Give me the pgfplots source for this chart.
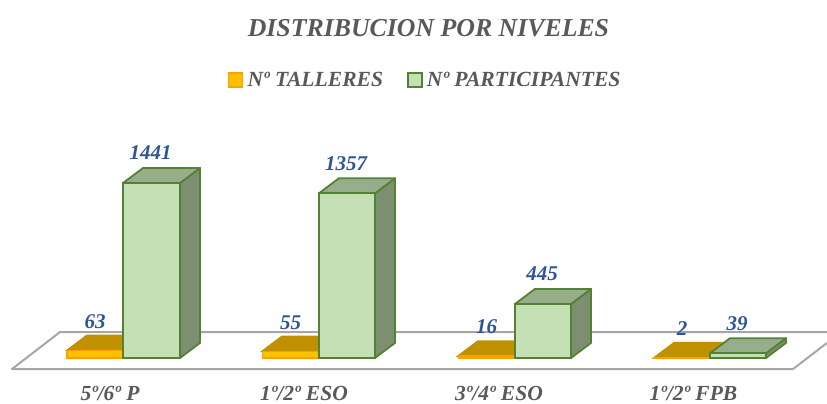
\documentclass[border=0pt]{standalone}
\usepackage{fontspec}
\setmainfont{Liberation Serif}
\usepackage{pgfplots}
\pgfplotsset{compat=1.18}
\definecolor{gtxt}{HTML}{595959}
\definecolor{btxt}{HTML}{2F5597}
\definecolor{floorc}{HTML}{A6A6A6}
\definecolor{ofront}{HTML}{FFC000}
\definecolor{oedge}{HTML}{FFA000}
\definecolor{otop}{HTML}{BF9000}
\definecolor{gfront}{HTML}{C5E0B4}
\definecolor{gedge}{HTML}{548235}
\definecolor{gtop}{HTML}{98AE8A}
\definecolor{gside}{HTML}{7D8F70}
\begin{document}
\begin{tikzpicture}
\useasboundingbox (0,-34pt) rectangle (827pt,370pt);
\begin{axis}[
  at={(0,0)},anchor=south west,
  scale only axis,width=827pt,height=370pt,
  xmin=0,xmax=827,ymin=-98.85,ymax=2949,
  clip=false,
  axis line style={draw=none},
  major tick length=0pt,
  ytick=\empty,
  xtick={110,304,499,693.5},
  xticklabels={5º/6º P,1º/2º ESO,3º/4º ESO,1º/2º FPB},
  xticklabel style={anchor=center,yshift=-23.5pt,text=gtxt,font=\bfseries\itshape\fontsize{21.5}{24}\selectfont},
  /pgf/number format/assume math mode=true,
  /pgf/number format/1000 sep={},
  title={DISTRIBUCION POR NIVELES},
  title style={at={(axis description cs:0.5181,0.9216)},anchor=center,yshift=-5pt,text=gtxt,font=\bfseries\itshape\fontsize{25.8}{30}\selectfont},
  legend columns=2,
  legend style={at={(axis description cs:0.514,0.784)},anchor=center,draw=none,fill=none,
    font=\bfseries\itshape\fontsize{21.6}{25}\selectfont,text=gtxt,
    /tikz/every even column/.append style={column sep=22pt},
    inner sep=0pt,nodes={inner sep=2pt}},
]
% floor
\addplot[forget plot,color=floorc,line width=2pt,line join=round] coordinates {(827,124)(793,-91)(12,-91)(60,214)(827,214)};
% orange tops
\addplot[forget plot,fill=otop,draw=otop,line width=1.5pt] coordinates {(67,63)(123,63)(143,187)(87,187)} --cycle;
\addplot[forget plot,fill=otop,draw=otop,line width=1.5pt] coordinates {(262,55)(319,55)(339,179)(282,179)} --cycle;
\addplot[forget plot,fill=otop,draw=otop,line width=1.5pt] coordinates {(458,16)(515,16)(535,140)(478,140)} --cycle;
\addplot[forget plot,fill=otop,draw=otop,line width=1.5pt] coordinates {(654,2)(710,2)(730,126)(674,126)} --cycle;
% orange fronts
\addplot[ybar,bar shift=0pt,bar width=56pt,fill=ofront,draw=oedge,line width=1.5pt,
  nodes near coords,
  nodes near coords style={anchor=center,yshift=29pt,text=btxt,font=\bfseries\itshape\fontsize{21}{24}\selectfont},
  legend image code/.code={\draw[fill=ofront,draw=oedge,line width=1.8pt] (0,-7pt) rectangle (14pt,7pt);\path[draw=none,fill=none] (0,0) -- (17pt,0);}]
  coordinates {(95,63)(290.5,55)(486.5,16)(682,2)};
\addlegendentry{Nº TALLERES}
% green sides and tops
\addplot[forget plot,fill=gside,draw=gedge,line width=1.8pt,line join=round] coordinates {(180,0)(200,124)(200,1565)(180,1441)} --cycle;
\addplot[forget plot,fill=gtop,draw=gedge,line width=1.8pt,line join=round] coordinates {(123,1441)(180,1441)(200,1565)(143,1565)} --cycle;
\addplot[forget plot,fill=gside,draw=gedge,line width=1.8pt,line join=round] coordinates {(375,0)(395,124)(395,1481)(375,1357)} --cycle;
\addplot[forget plot,fill=gtop,draw=gedge,line width=1.8pt,line join=round] coordinates {(319,1357)(375,1357)(395,1481)(339,1481)} --cycle;
\addplot[forget plot,fill=gside,draw=gedge,line width=1.8pt,line join=round] coordinates {(571,0)(591,124)(591,569)(571,445)} --cycle;
\addplot[forget plot,fill=gtop,draw=gedge,line width=1.8pt,line join=round] coordinates {(515,445)(571,445)(591,569)(535,569)} --cycle;
\addplot[forget plot,fill=gside,draw=gedge,line width=1.8pt,line join=round] coordinates {(766,0)(786,124)(786,163)(766,39)} --cycle;
\addplot[forget plot,fill=gtop,draw=gedge,line width=1.8pt,line join=round] coordinates {(710,39)(766,39)(786,163)(730,163)} --cycle;
% green fronts
\addplot[ybar,bar shift=0pt,bar width=56.5pt,fill=gfront,draw=gedge,line width=1.8pt,
  nodes near coords,
  nodes near coords style={anchor=center,yshift=30pt,xshift=-1pt,text=btxt,font=\bfseries\itshape\fontsize{21}{24}\selectfont},
  legend image code/.code={\draw[fill=gfront,draw=gedge,line width=1.8pt] (0,-7pt) rectangle (14pt,7pt);\path[draw=none,fill=none] (0,0) -- (17pt,0);}]
  coordinates {(151.5,1441)(347,1357)(543,445)(738,39)};
\addlegendentry{Nº PARTICIPANTES}
\end{axis}
\end{tikzpicture}
\end{document}
